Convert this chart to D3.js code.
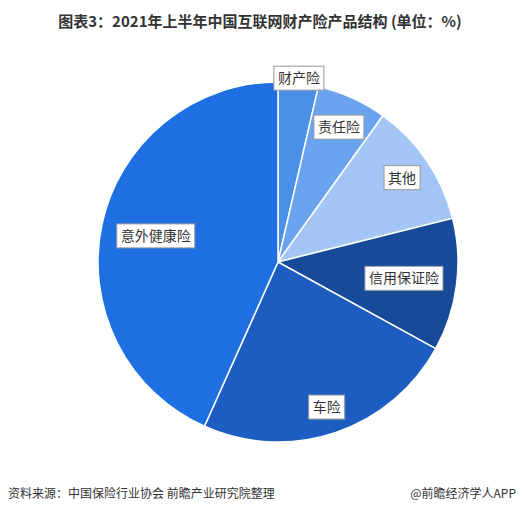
<!DOCTYPE html>
<html><head><meta charset="utf-8">
<script src="https://cdn.jsdelivr.net/npm/d3@7"></script>
<style>body{margin:0;background:#fff;font-family:"Noto Sans CJK SC","Noto Sans",sans-serif;}</style>
</head><body><svg id="c" width="522" height="514"></svg>
<script>
var categories = ['财产险', '责任险', '其他', '信用保证险', '车险', '意外健康险'];
var values = [3.6, 6.3, 11.2, 11.9, 23.7, 43.3];
var colors = ['#4a8fe8', '#6aa3ef', '#a3c6f6', '#174b9a', '#1d5cc0', '#1e6fe2'];

var svg = d3.select('#c');
var cx = 278, cy = 262, r = 180;
// label distance from centre per slice
var labelR = [185, 148, 150, 127, 153, 125];

svg.append('text').attr('x', 260).attr('y', 27).attr('text-anchor', 'middle')
  .attr('font-size', 15).attr('font-weight', 'bold').attr('fill', '#333')
  .text('图表3：2021年上半年中国互联网财产险产品结构 (单位：%)');

var pie = d3.pie().sort(null).value(function(d) { return d; });
var arcs = pie(values);
var arc = d3.arc().innerRadius(0).outerRadius(r);
var g = svg.append('g').attr('transform', 'translate(' + cx + ',' + cy + ')');

g.selectAll('path').data(arcs).enter().append('path')
  .attr('d', arc).attr('fill', function(d, i) { return colors[i]; })
  .attr('stroke', '#fff').attr('stroke-width', 1.5);

arcs.forEach(function(d, i) {
  var p = d3.arc().innerRadius(labelR[i]).outerRadius(labelR[i]).centroid(d);
  var lg = g.append('g').attr('transform', 'translate(' + p[0] + ',' + p[1] + ')');
  var t = lg.append('text').attr('text-anchor', 'middle').attr('dy', '0.35em')
    .attr('font-size', 14).attr('fill', '#333').text(categories[i]);
  var w = categories[i].length * 14 + 8;
  lg.insert('rect', 'text').attr('x', -w / 2).attr('y', -12).attr('width', w).attr('height', 24)
    .attr('fill', '#fff').attr('stroke', '#999').attr('stroke-width', 1);
});

svg.append('text').attr('x', 8).attr('y', 498).attr('font-size', 12).attr('fill', '#333')
  .text('资料来源：中国保险行业协会 前瞻产业研究院整理');
svg.append('text').attr('x', 516).attr('y', 498).attr('font-size', 12).attr('fill', '#333')
  .attr('text-anchor', 'end').text('@前瞻经济学人APP');
</script></body></html>
